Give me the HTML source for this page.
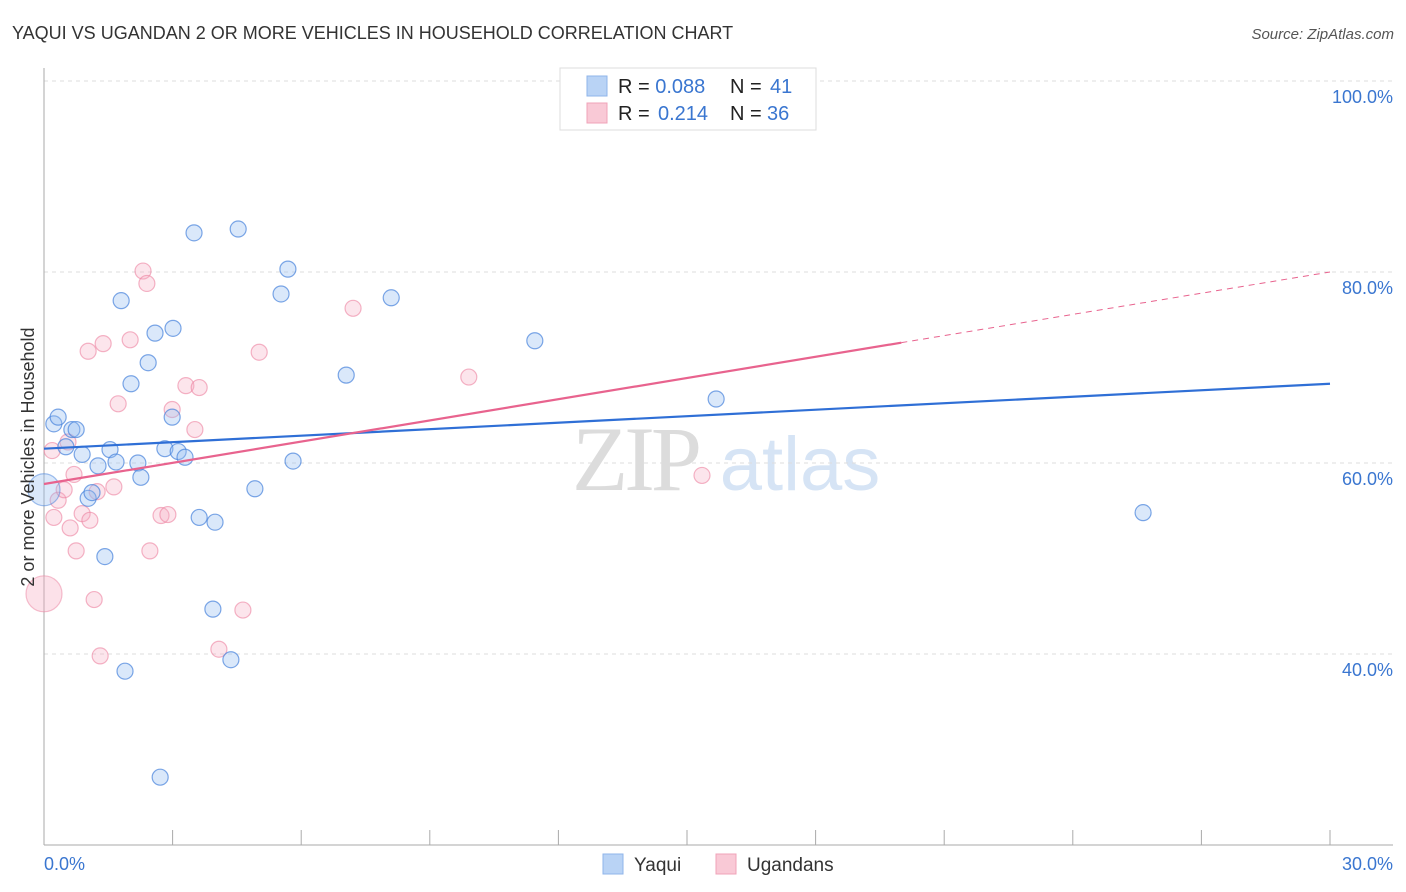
<!DOCTYPE html>
<html><head><meta charset="utf-8"><style>
body{margin:0;background:#fff;font-family:"Liberation Sans",sans-serif;}
svg{display:block}
</style></head><body>
<svg width="1406" height="892" viewBox="0 0 1406 892">
<text x="12" y="39" font-size="18" fill="#333">YAQUI VS UGANDAN 2 OR MORE VEHICLES IN HOUSEHOLD CORRELATION CHART</text>
<text x="1394" y="39" font-size="15" fill="#555" font-style="italic" text-anchor="end">Source: ZipAtlas.com</text>
<g>
<text x="635" y="490" font-size="92" fill="#dcdcdc" font-family="Liberation Serif,serif" text-anchor="middle" letter-spacing="-4">ZIP</text>
<text x="800" y="490" font-size="76" fill="#d6e4f5" text-anchor="middle">atlas</text>
</g>
<g id="grid"></g>
<g id="axes"></g>
<g id="marks"></g>
<text transform="translate(34,457) rotate(-90)" font-size="18" fill="#333" text-anchor="middle">2 or more Vehicles in Household</text>
<g>
<rect x="560" y="68" width="256" height="62" fill="#fff" stroke="#ddd"/>
<rect x="587" y="76" width="20" height="20" fill="#b9d3f5" stroke="#8fb5ea"/>
<rect x="587" y="103" width="20" height="20" fill="#f9c9d6" stroke="#f0a3b8"/>
<text x="618" y="93" font-size="20" fill="#222">R = <tspan fill="#3a76d0">0.088</tspan><tspan x="730">N = </tspan><tspan x="770" fill="#3a76d0">41</tspan></text>
<text x="618" y="120" font-size="20" fill="#222">R = <tspan x="658" fill="#3a76d0">0.214</tspan><tspan x="730">N = </tspan><tspan x="767" fill="#3a76d0">36</tspan></text>
</g>
<g>
<rect x="603" y="854" width="20" height="20" fill="#b9d3f5" stroke="#8fb5ea"/>
<text x="634" y="871" font-size="19" fill="#333">Yaqui</text>
<rect x="716" y="854" width="20" height="20" fill="#f9c9d6" stroke="#f0a3b8"/>
<text x="747" y="871" font-size="19" fill="#333">Ugandans</text>
</g>
</svg>
<script>
const yTicks=[40,60,80,100];
const yTickLabels=["40.0%","60.0%","80.0%","100.0%"];
const xTicks=[0,3,6,9,12,15,18,21,24,27,30];
const yaquiX=[0.23,0.33,0.65,0.75,0.89,1.54,1.26,1.68,2.19,2.26,1.03,1.12,1.42,1.80,2.03,2.43,2.59,3.01,2.99,2.82,3.13,3.29,3.50,4.53,3.62,3.99,3.94,4.36,1.89,2.71,4.92,5.53,5.69,5.81,7.05,8.10,11.45,15.68,25.64,0.51];
const yaquiY=[64.1,64.8,63.5,63.5,60.9,61.4,59.7,60.1,60.0,58.5,56.3,56.9,50.2,77.0,68.3,70.5,73.6,74.1,64.8,61.5,61.2,60.6,84.1,84.5,54.3,53.8,44.7,39.4,38.2,27.1,57.3,77.7,80.3,60.2,69.2,77.3,72.8,66.7,54.8,61.7];
const ugX=[0.23,0.19,0.33,0.47,0.56,0.61,0.70,0.75,0.89,1.03,1.07,1.17,1.24,1.31,1.38,1.63,1.73,2.01,2.31,2.40,2.47,2.73,2.89,2.99,3.31,3.52,3.62,4.08,4.64,5.02,7.21,9.91,15.35];
const ugY=[54.3,61.3,56.1,57.2,62.2,53.2,58.8,50.8,54.7,71.7,54.0,45.7,57.0,39.8,72.5,57.5,66.2,72.9,80.1,78.8,50.8,54.5,54.6,65.6,68.1,63.5,67.9,40.5,44.6,71.6,76.2,69.0,58.7];
const yaquiTrend=[61.5,68.3];
const ugTrend=[57.8,80.0];
const ugTrendSolidEnd=20;
const NS="http://www.w3.org/2000/svg";
const X=v=>44+v/30*1286;
const Y=v=>81+(100-v)*191/20;
function mk(tag,attrs,parent){const e=document.createElementNS(NS,tag);for(const k in attrs)e.setAttribute(k,attrs[k]);parent.appendChild(e);return e;}
const grid=document.getElementById('grid'),axes=document.getElementById('axes'),marks=document.getElementById('marks');
yTicks.forEach((t,i)=>{
 const l=mk('line',{x1:44,x2:1393,y1:Y(t),y2:Y(t),stroke:'#ddd','stroke-dasharray':'4,4'},grid);
 
 
 const tx=mk('text',{x:1393,y:Y(t)+22,'font-size':18,fill:'#3a76d0','text-anchor':'end'},axes);
 tx.textContent=yTickLabels[i];
 
 
});
const ya=mk('line',{x1:44,x2:44,y1:68,y2:845,stroke:'#aaa'},axes);


const xa=mk('line',{x1:44,x2:1393,y1:845,y2:845,stroke:'#aaa'},axes);


xTicks.forEach(t=>{
 const l=mk('line',{x1:X(t),x2:X(t),y1:830,y2:845,stroke:'#aaa'},axes);
 
 
});
[[0,'0.0%','start',44],[30,'30.0%','end',1393]].forEach(a=>{
 const t=mk('text',{x:a[3],y:870,'font-size':18,fill:'#3a76d0','text-anchor':a[2]},axes);
 t.textContent=a[1];
 
 
});
function dot(x,y,r,fill,stroke,name){
 const c=mk('circle',{cx:X(x),cy:Y(y),r:r,fill:fill,stroke:stroke,'stroke-width':1.2},marks);
 
 
}
ugX.forEach((x,i)=>dot(x,ugY[i],8,'rgba(246,170,192,0.3)','rgba(236,130,160,0.6)','ugandans-point'));
dot(0,46.3,18,'rgba(246,170,192,0.35)','rgba(236,130,160,0.5)','ugandans-point');
yaquiX.forEach((x,i)=>dot(x,yaquiY[i],8,'rgba(150,190,240,0.35)','rgba(70,130,220,0.7)','yaqui-point'));
dot(0,57.2,16,'rgba(150,190,240,0.35)','rgba(70,130,220,0.5)','yaqui-point');
const bl=mk('line',{x1:X(0),y1:Y(yaquiTrend[0]),x2:X(30),y2:Y(yaquiTrend[1]),stroke:'#2f6fd6','stroke-width':2.2},marks);


const ymid=ugTrend[0]+(ugTrend[1]-ugTrend[0])*ugTrendSolidEnd/30;
const pl=mk('line',{x1:X(0),y1:Y(ugTrend[0]),x2:X(ugTrendSolidEnd),y2:Y(ymid),stroke:'#e8638e','stroke-width':2.2},marks);


const pd=mk('line',{x1:X(ugTrendSolidEnd),y1:Y(ymid),x2:X(30),y2:Y(ugTrend[1]),stroke:'#e8638e','stroke-width':1,'stroke-dasharray':'6,5'},marks);


</script>
</body></html>
